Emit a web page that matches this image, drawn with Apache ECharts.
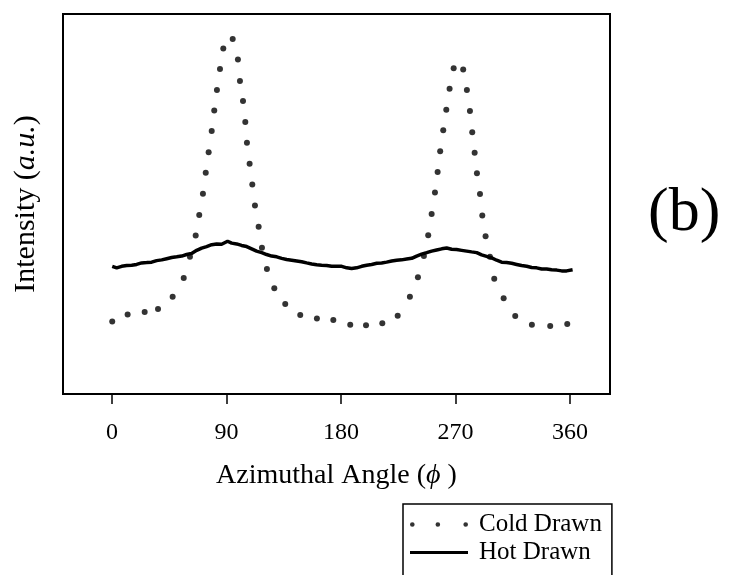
<!DOCTYPE html>
<html>
<head>
<meta charset="utf-8">
<script src="https://cdn.jsdelivr.net/npm/echarts@6/dist/echarts.min.js"></script>
<style>
  html, body {margin: 0; padding: 0; background: #fff;}
  #main {width: 730px; height: 575px;}
</style>
</head>
<body>
<div id="main"></div>
<script>
function $(id) {return document.getElementById(id)}

// x tick labels
var angleTicks = [0, 90, 180, 270, 360];

// Cold Drawn (dotted)
var coldAngle = [0.2, 12.3, 25.7, 36.2, 47.7, 56.4, 61.3, 65.8, 68.6, 71.5, 73.7, 76.0, 78.4, 80.4, 82.5, 84.9, 87.5, 94.9,
  99.0, 100.6, 103.0, 104.8, 106.1, 108.2, 110.3, 112.4, 115.3, 117.9, 121.8, 127.6, 136.2, 148.0, 161.1, 174.0, 187.3,
  199.7, 212.5, 224.6, 234.2, 240.5, 245.2, 248.6, 251.3, 253.9, 256.0, 258.0, 260.4, 262.8, 265.4, 268.6,
  276.1, 279.0, 281.4, 283.2, 285.1, 286.9, 289.3, 291.1, 293.7, 297.1, 300.5, 307.9, 317.0, 330.1, 344.5, 357.9];
var coldIntensity = [19.1, 20.9, 21.6, 22.4, 25.6, 30.5, 36.1, 41.7, 47.1, 52.7, 58.2, 63.6, 69.2, 74.6, 80.0, 85.5, 90.9, 93.4,
  88.0, 82.4, 77.1, 71.6, 66.1, 60.6, 55.1, 49.6, 44.0, 38.5, 32.9, 27.8, 23.7, 20.8, 19.9, 19.5, 18.2,
  18.1, 18.6, 20.6, 25.6, 30.7, 36.3, 41.8, 47.4, 53.0, 58.4, 63.9, 69.4, 74.8, 80.3, 85.7,
  85.4, 80.0, 74.5, 68.9, 63.5, 58.1, 52.6, 47.0, 41.5, 36.1, 30.3, 25.2, 20.5, 18.2, 17.9, 18.4];

// Hot Drawn (solid)
var hotAngle = [0.2, 3.7, 7.6, 11.6, 15.5, 19.4, 23.3, 27.3, 31.2, 35.1, 39.1, 43.0, 46.9, 50.9, 54.8, 58.7, 62.6, 66.6,
  70.5, 74.4, 78.4, 82.3, 86.2, 90.9, 94.1, 98.0, 101.9, 105.9, 109.8, 113.7, 117.7, 121.6, 125.5, 129.5, 133.4, 137.3,
  141.3, 145.2, 149.1, 153.0, 157.0, 160.9, 164.8, 168.8, 172.7, 176.6, 180.6, 184.5, 188.4, 192.3, 196.3, 200.2, 204.1,
  208.1, 212.0, 215.9, 219.9, 223.8, 227.7, 231.6, 235.6, 239.5, 243.4, 247.4, 251.3, 255.2, 259.2, 263.1, 267.0, 270.9,
  274.9, 278.8, 282.7, 286.7, 290.6, 294.5, 298.5, 302.4, 306.3, 310.2, 314.2, 318.1, 322.0, 326.0, 329.9, 333.8, 337.8,
  341.7, 345.6, 349.6, 353.5, 357.4, 362.1];
var hotIntensity = [33.6, 33.2, 33.6, 33.8, 33.9, 34.1, 34.5, 34.6, 34.7, 35.1, 35.3, 35.6, 35.9, 36.1, 36.3, 36.7, 37.0, 37.8,
  38.4, 38.8, 39.3, 39.5, 39.4, 40.2, 39.7, 39.5, 39.1, 38.8, 38.2, 37.6, 37.2, 36.7, 36.3, 36.1, 35.7, 35.4,
  35.2, 35.0, 34.8, 34.5, 34.2, 34.0, 33.9, 33.8, 33.6, 33.6, 33.6, 33.2, 33.0, 33.2, 33.6, 33.9, 34.1,
  34.4, 34.5, 34.7, 35.0, 35.2, 35.3, 35.5, 35.7, 36.3, 36.8, 37.2, 37.6, 37.9, 38.2, 38.4, 38.1, 38.0,
  37.8, 37.6, 37.4, 37.2, 36.6, 36.2, 35.8, 35.2, 34.7, 34.6, 34.4, 34.1, 33.8, 33.6, 33.3, 33.2, 32.9,
  32.9, 32.7, 32.6, 32.4, 32.4, 32.7];

function zip(a, b) {
  return a.map(function (v, i) { return [v, b[i]]; });
}

var serif = 'Liberation Serif';

var chart = echarts.init($('main'));
chart.setOption({
  animation: false,
  backgroundColor: '#fff',
  grid: {
    left: 63,
    right: 120,
    top: 14,
    bottom: 181,
    show: true,
    borderColor: '#000',
    borderWidth: 2
  },
  xAxis: {
    type: 'value',
    min: -38.5,
    max: 391.5,
    name: '{n|Azimuthal Angle (}{i|ϕ}{n| )}',
    nameLocation: 'middle',
    nameGap: 68,
    nameTextStyle: {
      rich: {
        n: {fontFamily: serif, fontSize: 28, color: '#000'},
        i: {fontFamily: serif, fontSize: 28, fontStyle: 'italic', color: '#000'}
      }
    },
    axisLine: {show: true, lineStyle: {color: '#000', width: 2}},
    axisTick: {show: true, inside: false, length: 10, customValues: angleTicks, lineStyle: {color: '#000', width: 1.5}},
    axisLabel: {
      customValues: angleTicks,
      margin: 27,
      fontFamily: serif,
      fontSize: 24,
      color: '#000'
    },
    splitLine: {show: false}
  },
  yAxis: {
    type: 'value',
    min: 0,
    max: 100,
    name: '{n|Intensity (}{i|a.u.}{n|)}',
    nameLocation: 'middle',
    nameRotate: 90,
    nameGap: 22,
    nameTextStyle: {
      rich: {
        n: {fontFamily: serif, fontSize: 30, color: '#000'},
        i: {fontFamily: serif, fontSize: 30, fontStyle: 'italic', color: '#000'}
      }
    },
    axisLine: {show: false},
    axisTick: {show: false},
    axisLabel: {show: false},
    splitLine: {show: false}
  },
  legend: {
    orient: 'vertical',
    left: 403,
    top: 504,
    width: 210,
    height: 150,
    padding: [8, 10, 40, 7],
    itemWidth: 58,
    itemHeight: 14,
    itemGap: 3,
    borderColor: '#000',
    borderWidth: 1.5,
    textStyle: {fontFamily: serif, fontSize: 25, color: '#000', padding: [0, 0, 0, 6]},
    data: [
      {name: 'Cold Drawn', icon: 'path://M0,2a2,2 0 1,0 4,0a2,2 0 1,0 -4,0M22,2a2,2 0 1,0 4,0a2,2 0 1,0 -4,0M46,2a2,2 0 1,0 4,0a2,2 0 1,0 -4,0'},
      {name: 'Hot Drawn', icon: 'path://M0,0H58V3H0Z'}
    ]
  },
  graphic: [{
    type: 'text',
    left: 648,
    top: 183,
    style: {text: '(b)', font: '62px "Liberation Serif"', fill: '#000'}
  }],
  series: [
    {
      name: 'Cold Drawn',
      type: 'scatter',
      symbol: 'circle',
      symbolSize: 6,
      color: '#000',
      z: 2,
      data: zip(coldAngle, coldIntensity)
    },
    {
      name: 'Hot Drawn',
      type: 'line',
      showSymbol: false,
      symbol: 'none',
      color: '#000',
      lineStyle: {color: '#000', width: 3.5},
      z: 3,
      data: zip(hotAngle, hotIntensity)
    }
  ]
});
</script>
</body>
</html>
